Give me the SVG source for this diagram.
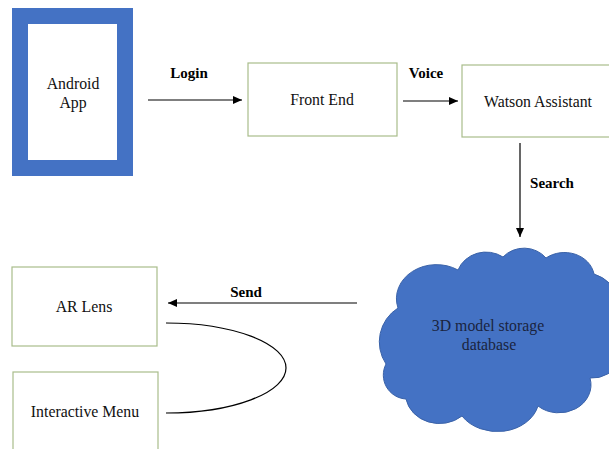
<svg xmlns="http://www.w3.org/2000/svg" width="609" height="449" viewBox="0 0 609 449">
<defs>
<marker id="ah" markerWidth="10" markerHeight="8" refX="9" refY="4" orient="auto" markerUnits="userSpaceOnUse">
<path d="M0,0 L9,4 L0,8 Z" fill="#000"/>
</marker>
<style>
.box{fill:#fff;stroke:#a9bd8b;stroke-width:1.2}
.t{font-family:'Liberation Serif','Times New Roman',serif;font-size:15.8px;fill:#111;text-anchor:middle}
.b{font-family:'Liberation Serif','Times New Roman',serif;font-size:15px;font-weight:bold;fill:#000;text-anchor:middle}
.c{stroke:#000;stroke-width:1.2;fill:none}
</style>
</defs>
<rect width="609" height="449" fill="#fff"/>
<g id="android">
<rect x="20" y="16" width="105" height="152" fill="#fff" stroke="#4472c4" stroke-width="16"/>
<text class="t" x="73" y="89">Android</text>
<text class="t" x="73" y="108">App</text>
</g>
<g id="frontend">
<rect class="box" x="248" y="63" width="149" height="73"/>
<text class="t" x="322" y="105">Front End</text>
</g>
<g id="watson">
<rect class="box" x="462" y="65" width="148" height="72"/>
<text class="t" x="538" y="107">Watson Assistant</text>
</g>
<g id="cloud">
<path d="M 386 364 A 40 40 0 0 1 398 308 A 40 34 0 0 1 458 270 A 30 28 0 0 1 503 257 A 28 26 0 0 1 546 258 A 30 26 0 0 1 594 274 A 40 45 0 0 1 620 300 L 620 360 A 30 30 0 0 1 590 378 A 32 28 0 0 1 538 406 A 42 34 0 0 1 462 416 A 34 30 0 0 1 406 399 A 24 24 0 0 1 386 364 Z" fill="#4472c4" stroke="#3a62a8" stroke-width="1"/>
<text class="t" x="488" y="331" style="fill:#1a2440">3D model storage</text>
<text class="t" x="489" y="350" style="fill:#1a2440">database</text>
</g>
<g id="arlens">
<rect class="box" x="12" y="267" width="145" height="79"/>
<text class="t" x="84" y="312">AR Lens</text>
</g>
<g id="menu">
<rect class="box" x="13" y="372" width="145" height="82"/>
<text class="t" x="85" y="417">Interactive Menu</text>
</g>
<g id="connectors">
<line class="c" x1="148" y1="100" x2="242" y2="100" marker-end="url(#ah)"/>
<text class="b" x="189" y="78">Login</text>
<line class="c" x1="403" y1="101" x2="458" y2="101" marker-end="url(#ah)"/>
<text class="b" x="426" y="78">Voice</text>
<line class="c" x1="520" y1="143" x2="520" y2="237" marker-end="url(#ah)"/>
<text class="b" x="552" y="188">Search</text>
<line class="c" x1="357" y1="303" x2="168" y2="303" marker-end="url(#ah)"/>
<text class="b" x="246" y="297">Send</text>
<path class="c" d="M 166 323 A 120 45 0 0 1 166 413"/>
</g>
</svg>
